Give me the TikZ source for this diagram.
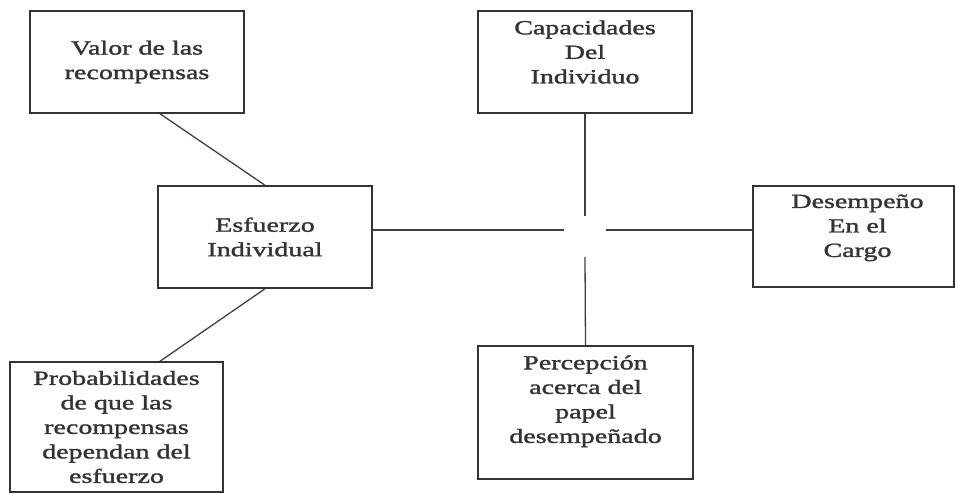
\documentclass[tikz,border=0pt]{standalone}
\usepackage{fontspec}
\setmainfont{Liberation Serif}[FakeStretch=1.4,FakeBold=1.6]
\begin{document}
\begin{tikzpicture}[x=1pt,y=-1pt,
  box/.style={draw=black!80, line width=1.5pt, rectangle, inner sep=0pt},
  lbl/.style={align=center, font=\fontsize{20}{24.5}\selectfont, text=black!80, inner sep=0pt},
  conn/.style={draw=black!75, line width=1.3pt}]
\useasboundingbox (0,0) rectangle (956,494);
\fill[white] (0,0) rectangle (956,494);
% boxes
\node[box, lbl, minimum width=214pt, minimum height=102pt] (valor) at (137,62) {Valor de las\\recompensas};
\node[box, minimum width=214pt, minimum height=102pt] (cap) at (585,62) {};
\node[lbl, anchor=north] (captxt) at ([yshift=-10pt]cap.north) {Capacidades\\Del\\Individuo};
\node[box, lbl, minimum width=214pt, minimum height=102pt] (esf) at (265,237) {Esfuerzo\\Individual};
\node[box, minimum width=201pt, minimum height=101pt] (des) at (853.5,236.5) {};
\node[lbl, anchor=north] (destxt) at ([xshift=4pt,yshift=-9pt]des.north) {Desempeño\\En el\\Cargo};
\node[box, lbl, minimum width=213pt, minimum height=130pt] (prob) at (116.5,427) {Probabilidades\\de que las\\recompensas\\dependan del\\esfuerzo};
\node[box, minimum width=215pt, minimum height=133pt] (perc) at (585.5,412.5) {};
\node[lbl, anchor=north] (perctxt) at ([yshift=-10pt]perc.north) {Percepción\\acerca del\\papel\\desempeñado};
% cross gap ends
\coordinate (gl) at (564,230);
\coordinate (gr) at (606,230);
\coordinate (gt) at (585,216);
\coordinate (gb) at (585,257);
% connectors
\draw[conn] ([xshift=23pt]valor.south) -- (esf.north);
\draw[conn] (esf.south) -- ([xshift=43.5pt]prob.north);
\draw[conn] (esf.east |- gl) -- (gl);
\draw[conn] (gr) -- (des.west |- gr);
\draw[conn] (cap.south) -- (gt);
\draw[conn] (gb) -- (perc.north);
\end{tikzpicture}
\end{document}
